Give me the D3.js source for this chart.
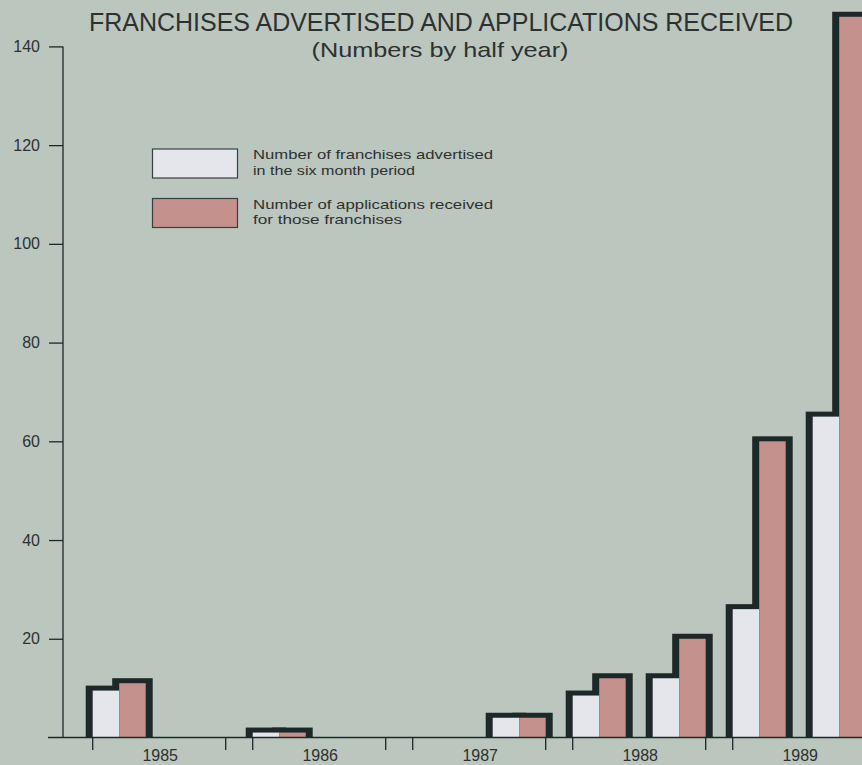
<!DOCTYPE html>
<html>
<head>
<meta charset="utf-8">
<script src="https://cdn.jsdelivr.net/npm/d3@7"></script>
<style>
  html, body { margin: 0; padding: 0; background: #bac6be; }
  svg { display: block; }
  text { font-family: "Liberation Sans", Arial, Helvetica, sans-serif; }
</style>
</head>
<body>
<svg id="chart" width="862" height="765"></svg>
<script>
// Half-year periods, 1985 to 1989
const periods = ["1985-H1","1985-H2","1986-H1","1986-H2","1987-H1","1987-H2","1988-H1","1988-H2","1989-H1","1989-H2"];
const years = ["1985","1986","1987","1988","1989"];
// Franchises advertised in each six-month period
const advertised = [9.5, 0, 1, 0, 0, 4, 8.5, 12, 26, 65];
// Applications received for those franchises
const applications = [11, 0, 1, 0, 0, 4, 12, 20, 60, 146];
const yTicks = [20, 40, 60, 80, 100, 120, 140];
const legendLabels = [
  ["Number of franchises advertised", "in the six month period"],
  ["Number of applications received", "for those franchises"]
];

const W = 862, H = 765;
const colors = { bg: "#bac6be", light: "#e4e6ec", rose: "#c4918d", ink: "#1d2828", text: "#2e3131" };

const svg = d3.select("#chart");
svg.append("rect").attr("width", W).attr("height", H).attr("fill", colors.bg);

const baseY = 737.5;
const y = d3.scaleLinear().domain([0, 140]).range([baseY, 46.4]);
const x = d3.scaleBand().domain(periods).range([92.7, 865.7]).paddingInner(0.3375).paddingOuter(0);
const half = x.bandwidth() / 2;

// Titles
svg.append("text").attr("x", 441).attr("y", 31).attr("text-anchor", "middle")
  .attr("font-size", 25).attr("fill", colors.text)
  .attr("textLength", 704).attr("lengthAdjust", "spacingAndGlyphs")
  .text("FRANCHISES ADVERTISED AND APPLICATIONS RECEIVED");
svg.append("text").attr("x", 440).attr("y", 57).attr("text-anchor", "middle")
  .attr("font-size", 21).attr("fill", colors.text)
  .attr("textLength", 257).attr("lengthAdjust", "spacingAndGlyphs")
  .text("(Numbers by half year)");

// Y axis
const yAxis = d3.axisLeft(y).tickValues(yTicks).tickSize(14).tickPadding(9);
const gy = svg.append("g").attr("transform", "translate(63,0)").call(yAxis);
gy.select(".domain").remove();
gy.append("line").attr("x1", 0).attr("x2", 0).attr("y1", y(140)).attr("y2", baseY)
  .attr("stroke", colors.ink).attr("stroke-width", 1.3);
gy.selectAll(".tick line").attr("stroke", colors.ink).attr("stroke-width", 1.3);
gy.selectAll(".tick text").attr("font-size", 16).attr("fill", colors.text)
  .attr("font-family", "'Liberation Sans', Arial, sans-serif");

// Bars: dark outlines first, then fills on top
const rows = periods.map((p, i) => ({ p, a: advertised[i], b: applications[i] })).filter(d => d.a > 0 || d.b > 0);
const sideW = 7, topW = 5;
const bars = [];
rows.forEach(d => {
  bars.push({ x0: x(d.p), v: d.a, fill: colors.light });
  bars.push({ x0: x(d.p) + half, v: d.b, fill: colors.rose });
});
svg.append("g").selectAll("rect").data(bars).join("rect")
  .attr("x", d => d.x0 - sideW).attr("width", half + 2 * sideW)
  .attr("y", d => y(d.v) - topW).attr("height", d => baseY - y(d.v) + topW)
  .attr("fill", colors.ink);
svg.append("g").selectAll("rect").data(bars).join("rect")
  .attr("x", d => d.x0).attr("width", half)
  .attr("y", d => y(d.v)).attr("height", d => baseY - y(d.v))
  .attr("fill", d => d.fill);

// X baseline and year ticks
svg.append("line").attr("x1", 48).attr("x2", W).attr("y1", baseY).attr("y2", baseY)
  .attr("stroke", colors.ink).attr("stroke-width", 1.5);
const yearG = svg.append("g");
years.forEach((yr, i) => {
  const left = x(periods[2 * i]);
  const right = x(periods[2 * i + 1]) + x.bandwidth();
  [left, right].forEach(tx => {
    yearG.append("line").attr("x1", tx).attr("x2", tx).attr("y1", baseY).attr("y2", 750)
      .attr("stroke", colors.ink).attr("stroke-width", 1.3);
  });
  yearG.append("text").attr("x", (left + right) / 2 + 1).attr("y", 761)
    .attr("text-anchor", "middle").attr("font-size", 16).attr("fill", colors.text).text(yr);
});

// Legend
const legend = svg.append("g");
const legendWidths = [[240, 162], [240, 149]];
[colors.light, colors.rose].forEach((c, i) => {
  const top = 149 + i * 49.5;
  legend.append("rect").attr("x", 152.5).attr("y", top).attr("width", 85).attr("height", 29)
    .attr("fill", c).attr("stroke", "#3a4040").attr("stroke-width", 1.2);
  legendLabels[i].forEach((t, j) => {
    legend.append("text").attr("x", 253).attr("y", top + 10 + j * 15.5)
      .attr("font-size", 13).attr("fill", colors.text)
      .attr("textLength", legendWidths[i][j]).attr("lengthAdjust", "spacingAndGlyphs")
      .text(t);
  });
});
</script>
</body>
</html>
